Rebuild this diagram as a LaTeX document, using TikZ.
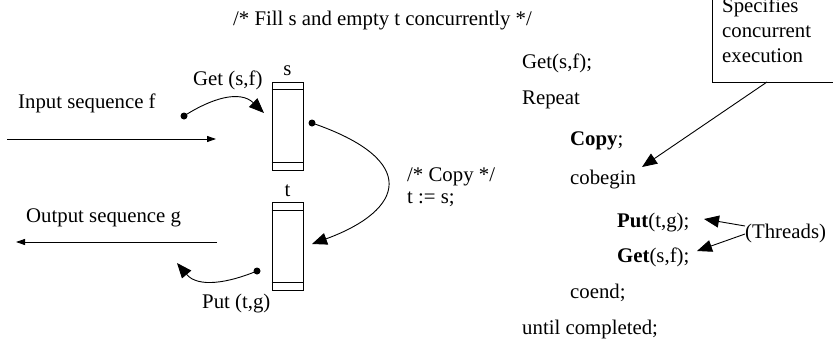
\documentclass[tikz,border=0pt]{standalone}
\usepackage{fontspec}
\setmainfont{Liberation Serif}
\usetikzlibrary{arrows.meta,calc}
\begin{document}
\begin{tikzpicture}[x=1pt,y=-1pt,
  txt/.style={font=\fontsize{20.8}{25}\selectfont, inner sep=0pt, anchor=base west},
  ctxt/.style={font=\fontsize{20.8}{25}\selectfont, inner sep=0pt, anchor=base},
  stack/.style={draw, line width=1pt, minimum width=31pt, minimum height=88pt, inner sep=0pt},
  flow/.style={line width=0.9pt, -{Triangle[length=9pt,width=6pt]}},
  ptr/.style={line width=0.9pt, -{Triangle[length=15pt,width=12pt]}},
  dot/.style={circle, fill, inner sep=0pt, minimum size=7pt}]
\useasboundingbox (0,0) rectangle (833,343);

% title
\node[txt] (title) at (233,25) {/* Fill s and empty t concurrently */};

% the two buffers
\node[stack] (s) at (287.5,126) {};
\node[stack] (t) at (287.5,246) {};
\draw[line width=1pt] ($(s.north west)+(0,8)$) -- ($(s.north east)+(0,8)$)
                      ($(s.south west)+(0,-8)$) -- ($(s.south east)+(0,-8)$)
                      ($(t.north west)+(0,9)$) -- ($(t.north east)+(0,9)$)
                      ($(t.south west)+(0,-8)$) -- ($(t.south east)+(0,-8)$);
\node[ctxt] (slbl) at (287.5,75) {s};
\node[ctxt] (tlbl) at (287.5,196) {t};

% input / output streams
\node[txt] (inlbl) at (18,108) {Input sequence f};
\coordinate (inA) at (7,139);
\coordinate (inB) at (216,139);
\draw[flow] (inA) -- (inB);

\node[txt] (outlbl) at (26,222) {Output sequence g};
\coordinate (outA) at (217,242);
\coordinate (outB) at (16,242);
\draw[flow] (outA) -- (outB);

% Get into s
\node[txt] (getlbl) at (193,85) {Get (s,f)};
\node[dot] (getdot) at (184,116) {};
\coordinate (gettip) at (264,113);
\draw[ptr] (getdot.center) .. controls (212,98) and (240,90) .. (gettip);

% Put out of t
\node[txt] (putlbl) at (202,308) {Put (t,g)};
\node[dot] (putdot) at (257,271) {};
\coordinate (puttip) at (177,263);
\draw[ptr] (putdot.center) .. controls (228,283) and (198,288) .. (puttip);

% copy s into t
\node[dot] (cpdot) at (312,123) {};
\coordinate (cptip) at (312,244);
\draw[ptr] (cpdot.center) .. controls (420,160) and (405,210) .. (cptip);
\node[txt] (cp1) at (407,181) {/* Copy */};
\node[txt] (cp2) at (407,203) {t := s;};

% program text
\node[txt] (l1) at (522,68)  {Get(s,f);};
\node[txt] (l2) at (522,104) {Repeat};
\node[txt] (l3) at (570,145) {\textbf{Copy};};
\node[txt] (l4) at (570,184) {cobegin};
\node[txt] (l5) at (617,227) {\textbf{Put}(t,g);};
\node[txt] (l6) at (617,262) {\textbf{Get}(s,f);};
\node[txt] (l7) at (570,298) {coend;};
\node[txt] (l8) at (522,334) {until completed;};

% annotation box
\draw[line width=1pt] (712,0) -- (712,82) -- (833,82);
\node[txt] (sp1) at (722,12) {Specifies};
\node[txt] (sp2) at (722,37) {concurrent};
\node[txt] (sp3) at (722,62) {execution};
\coordinate (spA) at (767,82);
\coordinate (spB) at (642,167);
\draw[ptr] (spA) -- (spB);

% threads
\node[txt] (thr) at (745,238) {(Threads)};
\coordinate (thA) at (745,226);
\coordinate (thB) at (745,234);
\coordinate (thC) at (704,219);
\coordinate (thD) at (697,251);
\draw[ptr] (thA) -- (thC);
\draw[ptr] (thB) -- (thD);
\end{tikzpicture}
\end{document}
